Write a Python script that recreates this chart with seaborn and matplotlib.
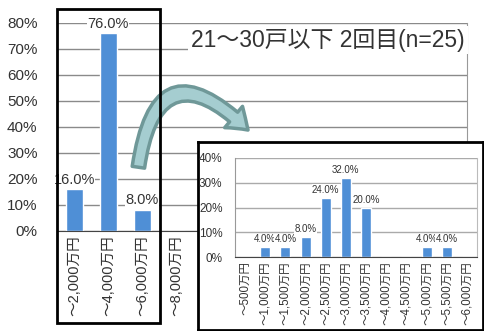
import seaborn as sns
import matplotlib.pyplot as plt
from matplotlib.patches import Rectangle, FancyArrowPatch, ArrowStyle
from matplotlib.ticker import MultipleLocator, PercentFormatter

# main chart (whole range, most of it hidden behind the zoomed inset)
main_cats = ['～2,000万円', '～4,000万円', '～6,000万円', '～8,000万円',
             '～10,000万円', '～12,000万円', '～14,000万円', '～16,000万円',
             '～18,000万円', '～20,000万円', '～22,000万円', '～24,000万円']
main_vals = [16.0, 76.0, 8.0, 0.0, 0.0, 0.0, 0.0, 0.0, 0.0, 0.0, 0.0, 0.0]

# zoomed inset
zoom_cats = ['～500万円', '～1,000万円', '～1,500万円', '～2,000万円',
             '～2,500万円', '～3,000万円', '～3,500万円', '～4,000万円',
             '～4,500万円', '～5,000万円', '～5,500万円', '～6,000万円']
zoom_vals = [0.0, 4.0, 4.0, 8.0, 24.0, 32.0, 20.0, 0.0, 0.0, 4.0, 4.0, 0.0]

title = '21～30戸以下 2回目(n=25)'

bar_color = '#4f8fd6'
text_color = '#333333'

sns.set_style('white')
plt.rcParams['font.family'] = ['Liberation Sans', 'Noto Sans CJK JP', 'DejaVu Sans']

W, H = 484, 331


def box(l, t, r, b):
    # pixel box (left, top, right, bottom) -> figure fraction rect
    return [l / W, 1 - b / H, (r - l) / W, (b - t) / H]


def style_axes(ax, cats, vals, ymax, ytick_size, xtick_size, ytick_pad,
               divider_len, label_size, grid_color):
    sns.barplot(x=cats, y=vals, color=bar_color, saturation=1, width=0.5, ax=ax)
    ax.set_xlim(-0.5, len(cats) - 0.5)
    ax.set_ylim(0, ymax)
    ax.set_xlabel('')
    ax.set_ylabel('')
    ax.yaxis.set_major_locator(MultipleLocator(10))
    ax.yaxis.set_major_formatter(PercentFormatter(decimals=0))
    ax.grid(axis='y', color=grid_color, lw=1)
    ax.set_axisbelow(True)
    ax.tick_params(axis='y', length=0, pad=ytick_pad, labelsize=ytick_size,
                   labelcolor=text_color)
    ax.tick_params(axis='x', which='major', length=0, pad=3,
                   labelsize=xtick_size, labelcolor=text_color, rotation=90)
    # category dividers under the axis, Excel style
    ax.set_xticks([i - 0.5 for i in range(len(cats) + 1)], minor=True)
    ax.tick_params(axis='x', which='minor', length=divider_len, width=1,
                   color='#555555', direction='out')
    ax.bar_label(ax.containers[0],
                 labels=[f'{v:.1f}%' if v else '' for v in vals],
                 padding=2, fontsize=label_size, color=text_color,
                 bbox=dict(fc='white', ec='none', pad=0.3))


fig = plt.figure(figsize=(4.84, 3.31), dpi=100)

# main chart
ax = fig.add_axes(box(57, 23, 467, 231))
style_axes(ax, main_cats, main_vals, 80, 11, 10.5, 14, 65, 10.5, '#8a8a8a')
ax.spines['top'].set_visible(False)
ax.spines['left'].set_visible(False)
ax.spines['right'].set_color('#999999')
ax.spines['bottom'].set_color('#444444')
# labels behind the inset are not visible in the original
for lbl in ax.get_xticklabels()[4:]:
    lbl.set_visible(False)

fig.text(328 / W, 1 - 40 / H, title, ha='center', va='center', fontsize=16.5,
         color=text_color, bbox=dict(fc='white', ec='none', pad=2))

# highlight box around the first three categories
fig.add_artist(Rectangle((57 / W, 1 - 323 / H), 103 / W, 314 / H,
                         transform=fig.transFigure, fill=False,
                         ec='black', lw=2, zorder=4))

# curved arrow pointing to the inset
arrow = FancyArrowPatch((138 / W, 1 - 170 / H), (250 / W, 1 - 132 / H),
                        transform=fig.transFigure,
                        connectionstyle='arc3,rad=-1.0',
                        arrowstyle=ArrowStyle.Simple(head_length=1.4,
                                                     head_width=2.0,
                                                     tail_width=0.9),
                        mutation_scale=10, fc='#a5cdd0', ec='#6f9898',
                        lw=2.5, zorder=1)
fig.add_artist(arrow)

# inset frame
frame = fig.add_axes(box(198, 142, 483, 330), zorder=2)
frame.set_xticks([])
frame.set_yticks([])
frame.set_facecolor('white')
for s in frame.spines.values():
    s.set_linewidth(2)
    s.set_color('black')

# inset chart
ax2 = fig.add_axes(box(235, 158, 477, 257), zorder=3)
ax2.patch.set_alpha(0)
style_axes(ax2, zoom_cats, zoom_vals, 40, 8.5, 8.3, 9, 49, 7, '#aaaaaa')
ax2.spines['top'].set_visible(False)
ax2.spines['left'].set_color('#999999')
ax2.spines['right'].set_color('#bbbbbb')
ax2.spines['bottom'].set_color('#444444')

plt.savefig('out.png', dpi=100)
plt.close()
